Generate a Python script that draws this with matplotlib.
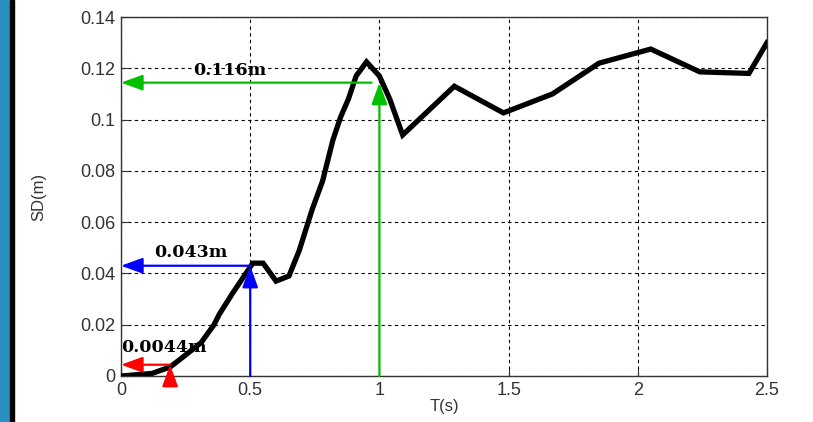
import matplotlib
matplotlib.use("Agg")
import matplotlib.pyplot as plt
from matplotlib.patches import Rectangle

# response spectrum (period vs spectral displacement)
T = [0.0, 0.12, 0.19, 0.24, 0.31, 0.36, 0.38, 0.43, 0.49, 0.51, 0.55, 0.60,
     0.65, 0.69, 0.74, 0.78, 0.82, 0.85, 0.88, 0.91, 0.95, 1.00, 1.04, 1.09,
     1.29, 1.48, 1.67, 1.85, 2.05, 2.24, 2.43, 2.50]
SD = [0.0, 0.001, 0.0035, 0.0074, 0.013, 0.020, 0.024, 0.032, 0.041, 0.044,
      0.044, 0.037, 0.039, 0.049, 0.065, 0.076, 0.092, 0.101, 0.108, 0.117,
      0.1225, 0.117, 0.108, 0.094, 0.113, 0.1026, 0.110, 0.122, 0.1275,
      0.1186, 0.118, 0.130]

# marker arrows: period, displacement, label, colour
MARK_T = [0.19, 0.5, 1.0]
MARK_SD = [0.0044, 0.043, 0.1144]
MARK_LABELS = ["0.0044m", "0.043m", "0.116m"]
MARK_COLORS = ["#ff0000", "#0000ff", "#00c000"]
LABEL_POS = [(0.0, 0.011), (0.13, 0.048), (0.28, 0.119)]

XTICKS = [0, 0.5, 1, 1.5, 2, 2.5]
YTICKS = [0, 0.02, 0.04, 0.06, 0.08, 0.1, 0.12, 0.14]

plt.rcParams["font.family"] = ["Liberation Sans", "DejaVu Sans"]

fig = plt.figure(figsize=(8.13, 4.22), dpi=100)
fig.patches.append(Rectangle((0, 0), 10 / 813, 1, transform=fig.transFigure,
                             color="#2b8fc2", zorder=0))
fig.patches.append(Rectangle((10 / 813, 0), 4 / 813, 1, transform=fig.transFigure,
                             color="black", zorder=0))

ax = fig.add_axes([121 / 813, 1 - 376 / 422, 646 / 813, 359 / 422])
ax.set_xlim(0, 2.5)
ax.set_ylim(0, 0.14)
ax.set_xticks(XTICKS)
ax.set_xticklabels(["0", "0.5", "1", "1.5", "2", "2.5"])
ax.set_yticks(YTICKS)
ax.set_yticklabels(["0", "0.02", "0.04", "0.06", "0.08", "0.1", "0.12", "0.14"])
ax.tick_params(direction="in", length=5, labelsize=13, colors="#333333", pad=4)
for s in ax.spines.values():
    s.set_color("#333333")
    s.set_linewidth(1.0)
ax.grid(True, color="black", linestyle=(0, (3, 3)), linewidth=0.8)

ax.plot(T, SD, color="black", lw=3.8, solid_joinstyle="miter", zorder=3)

for t, sd, lab, c, (lx, ly) in zip(MARK_T, MARK_SD, MARK_LABELS, MARK_COLORS, LABEL_POS):
    ap = dict(arrowstyle="-|>,head_length=1.1,head_width=0.4", color=c, lw=1.6,
              shrinkA=0, shrinkB=0, mutation_scale=12)
    ax.annotate("", xy=(0, sd), xytext=(t - 0.03 * (t >= 1), sd), arrowprops=ap, zorder=4)
    ax.annotate("", xy=(t, sd), xytext=(t, 0), arrowprops=ap, zorder=4)
    ax.text(lx, ly, lab, family="DejaVu Serif", weight="bold", fontsize=12.5,
            ha="left", va="center", zorder=5)

ax.set_xlabel("T(s)", fontsize=12, color="#333333")
ax.set_ylabel("SD(m)", fontsize=12, color="#333333")
ax.xaxis.set_label_coords(0.5, -0.065)
ax.yaxis.set_label_coords(-0.115, 0.5)

fig.savefig("out.png", dpi=100)
